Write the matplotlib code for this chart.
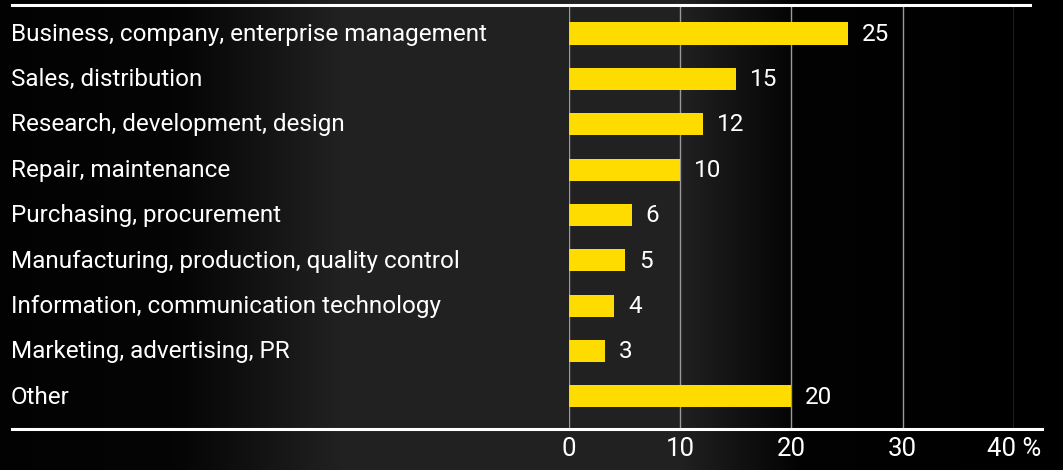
import matplotlib
matplotlib.use('Agg')
import matplotlib.pyplot as plt
import matplotlib.transforms as mtransforms
from matplotlib.lines import Line2D
import numpy as np

categories = [
    'Business, company, enterprise management',
    'Sales, distribution',
    'Research, development, design',
    'Repair, maintenance',
    'Purchasing, procurement',
    'Manufacturing, production, quality control',
    'Information, communication technology',
    'Marketing, advertising, PR',
    'Other',
]
# bar lengths as measured, labels as printed (rounded)
shares = [25.1, 15.0, 12.1, 10.0, 5.7, 5.1, 4.1, 3.3, 20.0]
share_labels = ['25', '15', '12', '10', '6', '5', '4', '3', '20']
xticks = [0, 10, 20, 30, 40]
xtick_labels = ['0', '10', '20', '30', '40 %']

W, H = 1063, 470
fig = plt.figure(figsize=(W / 100, H / 100), dpi=100)
plt.rcParams['font.family'] = ['Roboto', 'DejaVu Sans']

# dark background with a soft horizontal gradient
bg = fig.add_axes([0, 0, 1, 1])
xs = np.array([0, 180, 340, 680, 800, 1063]) / W
ls = np.array([0.01, 0.02, 0.13, 0.13, 0.01, 0.0])
grad = np.interp(np.linspace(0, 1, 500), xs, ls)
img = np.tile(grad, (10, 1))
bg.imshow(np.dstack([img, img, img]), aspect='auto', extent=[0, 1, 0, 1])
bg.set_xlim(0, 1)
bg.set_ylim(0, 1)
bg.axis('off')

left, right = 568.5 / W, 1014 / W
top, bottom = 1 - 5 / H, 1 - 429 / H
ax = fig.add_axes([left, bottom, right - left, top - bottom])
ax.patch.set_alpha(0)

y = np.arange(len(categories))
ax.barh(y, shares, height=0.49, color='#FFDC00', zorder=3)
ax.set_xlim(0, 40)
ax.set_ylim(len(categories) - 1 + 0.72, -0.63)

for v in xticks:
    ax.axvline(v, color='#9a9a9a', linewidth=1, zorder=1)

for s in ax.spines.values():
    s.set_visible(False)
ax.set_yticks([])
ax.set_xticks(xticks)
ax.set_xticklabels(xtick_labels, color='white', fontsize=18.5)
ax.tick_params(axis='x', length=0, pad=6)

for i, (v, lab) in enumerate(zip(shares, share_labels)):
    ax.annotate(lab, (v, i), xytext=(10, -0.5), textcoords='offset points',
                va='center', ha='left', color='white', fontsize=17.5)

trans = mtransforms.blended_transform_factory(fig.transFigure, ax.transData)
for i, c in enumerate(categories):
    ax.annotate(c, (11 / W, i), xycoords=trans, xytext=(0, -0.5),
                textcoords='offset points', va='center', ha='left',
                color='white', fontsize=17.5)

fig.add_artist(Line2D([12 / W, 1030 / W], [1 - 5 / H, 1 - 5 / H],
                      color='white', linewidth=2.2, transform=fig.transFigure))
fig.add_artist(Line2D([12 / W, 1042 / W], [1 - 429 / H, 1 - 429 / H],
                      color='white', linewidth=2.2, transform=fig.transFigure))

fig.savefig('out.png', dpi=100, facecolor='black')
